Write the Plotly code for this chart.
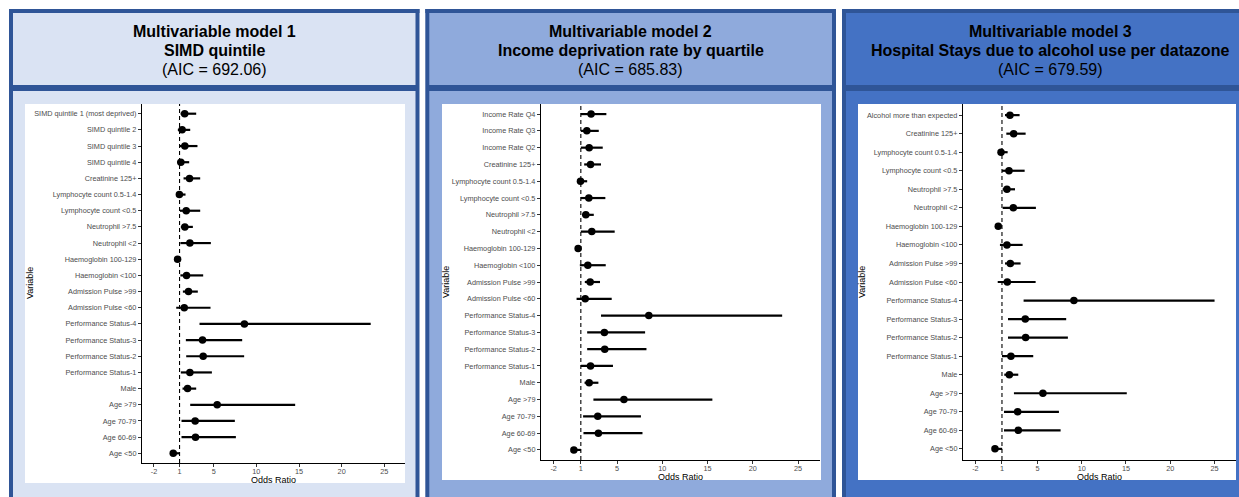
import plotly.graph_objects as go

W, H = 1239, 497

# ---------------- data ----------------
m1_labels = ["SIMD quintile 1 (most deprived)", "SIMD quintile 2", "SIMD quintile 3", "SIMD quintile 4",
             "Creatinine 125+", "Lymphocyte count 0.5-1.4", "Lymphocyte count <0.5", "Neutrophil >7.5",
             "Neutrophil <2", "Haemoglobin 100-129", "Haemoglobin <100", "Admission Pulse >99",
             "Admission Pulse <60", "Performance Status-4", "Performance Status-3", "Performance Status-2",
             "Performance Status-1", "Male", "Age >79", "Age 70-79", "Age 60-69", "Age <50"]
m1_or = [1.6, 1.3, 1.62, 1.15, 2.17, 0.98, 1.78, 1.62, 2.21, 0.77, 1.82, 2.05, 1.55, 8.6, 3.69, 3.77,
         2.21, 1.94, 5.41, 2.83, 2.87, 0.26]
m1_lo = [1.12, 0.8, 1.0, 0.73, 1.47, 0.68, 1.05, 1.15, 1.1, 0.6, 1.1, 1.39, 0.61, 3.34, 1.74, 1.78,
         1.15, 1.35, 2.25, 1.23, 1.23, 0.15]
m1_hi = [2.95, 2.25, 3.1, 2.13, 3.42, 1.7, 3.42, 2.56, 4.67, 1.05, 3.77, 3.14, 4.63, 23.4, 8.34, 8.57,
         4.79, 2.95, 14.55, 7.48, 7.6, 1.02]

m2_labels = ["Income Rate Q4", "Income Rate Q3", "Income Rate Q2", "Creatinine 125+",
             "Lymphocyte count 0.5-1.4", "Lymphocyte count <0.5", "Neutrophil >7.5", "Neutrophil <2",
             "Haemoglobin 100-129", "Haemoglobin <100", "Admission Pulse >99", "Admission Pulse <60",
             "Performance Status-4", "Performance Status-3", "Performance Status-2", "Performance Status-1",
             "Male", "Age >79", "Age 70-79", "Age 60-69", "Age <50"]
m2_or = [2.13, 1.66, 1.92, 2.07, 0.96, 1.88, 1.55, 2.21, 0.7, 1.77, 2.03, 1.48, 8.51, 3.6, 3.64, 2.07,
         1.92, 5.76, 2.87, 2.94, 0.23]
m2_lo = [1.0, 1.0, 1.0, 1.37, 0.74, 1.0, 1.15, 1.0, 0.55, 0.89, 1.44, 0.53, 3.23, 1.7, 1.7, 1.0,
         1.41, 2.39, 1.25, 1.29, 0.12]
m2_hi = [3.82, 2.98, 3.42, 3.23, 1.7, 3.71, 2.43, 4.74, 0.95, 3.75, 3.12, 4.41, 23.24, 8.1, 8.25, 4.55,
         2.94, 15.53, 7.64, 7.81, 1.02]

m3_labels = ["Alcohol more than expected", "Creatinine 125+", "Lymphocyte count 0.5-1.4",
             "Lymphocyte count <0.5", "Neutrophil >7.5", "Neutrophil <2", "Haemoglobin 100-129",
             "Haemoglobin <100", "Admission Pulse >99", "Admission Pulse <60", "Performance Status-4",
             "Performance Status-3", "Performance Status-2", "Performance Status-1", "Male", "Age >79",
             "Age 70-79", "Age 60-69", "Age <50"]
m3_or = [1.9, 2.32, 0.89, 1.79, 1.56, 2.28, 0.58, 1.56, 1.94, 1.6, 9.12, 3.63, 3.67, 2.01, 1.83, 5.62,
         2.77, 2.84, 0.21]
m3_lo = [1.34, 1.49, 0.63, 1.0, 1.08, 1.08, 0.45, 0.77, 1.34, 0.52, 3.44, 1.68, 1.68, 1.0, 1.26, 2.35,
         1.23, 1.23, 0.1]
m3_hi = [2.99, 3.67, 1.64, 3.56, 2.47, 4.83, 0.72, 3.33, 3.1, 4.8, 25.0, 8.25, 8.44, 4.53, 2.84, 15.09,
         7.43, 7.62, 1.02]

header_line1 = ["Multivariable model 1", "Multivariable model 2", "Multivariable model 3"]
header_line2 = ["SIMD quintile", "Income deprivation rate by quartile",
                "Hospital Stays due to alcohol use per datazone"]
aic_values = [692.06, 685.83, 679.59]

x_tick_vals = [-2, 1, 5, 10, 15, 20, 25]
x_tick_text = ["-2", "1", "5", "10", "15", "20", "25"]
x_range = [-3.4, 27.42]
ref_line = 1
x_title = "Odds Ratio"
y_title = "Variable"

models = [
    (m1_labels, m1_or, m1_lo, m1_hi),
    (m2_labels, m2_or, m2_lo, m2_hi),
    (m3_labels, m3_or, m3_lo, m3_hi),
]

# ---------------- layout geometry (pixels) ----------------
FONT = "Liberation Sans, Arial, sans-serif"
BORDER = "#2f5597"
panels = [
    dict(fx=(11, 417.5), bg="#dae3f3", white=(25, 405, 104, 483), dx=(142, 405), dy=(104, 463),
         var_x=29.5, title_y=479.5),
    dict(fx=(427.3, 834), bg="#8faadc", white=(442, 821, 104, 480), dx=(541, 820), dy=(104, 460),
         var_x=446, title_y=477),
    dict(fx=(844, 1256), bg="#4472c4", white=(858, 1236, 104, 480), dx=(963, 1236), dy=(104, 460),
         var_x=862, title_y=477),
]


def px(x):
    return x / W


def py(y):
    return 1 - y / H


def seg(xa0, ya0, xa1, ya1, width):
    return dict(type="line", xref="paper", yref="paper", x0=px(xa0), x1=px(xa1),
                y0=py(ya0), y1=py(ya1), line=dict(color=BORDER, width=width), layer="below")


fig = go.Figure()
shapes = []
annotations = []
layout_axes = {}

for i, (p, (labels, ors, los, his)) in enumerate(zip(panels, models)):
    n = len(labels)
    ypos = [n - k for k in range(n)]
    sfx = "" if i == 0 else str(i + 1)
    xa, ya = "x" + sfx, "y" + sfx

    x0, x1 = p["fx"]
    # panel fill (header + body)
    shapes.append(dict(type="rect", xref="paper", yref="paper", x0=px(x0), x1=px(x1),
                       y0=py(H + 10), y1=py(11), fillcolor=p["bg"], line=dict(width=0), layer="below"))
    # borders
    shapes.append(seg(x0 - 2, 11, x1 + 2, 11, 4))          # top
    shapes.append(seg(x0, 9, x0, H + 10, 4))                # left
    shapes.append(seg(x1, 9, x1, H + 10, 4))                # right
    shapes.append(seg(x0, 88, x1, 88, 6))                   # header separator
    wx0, wx1, wy0, wy1 = p["white"]
    shapes.append(dict(type="rect", xref="paper", yref="paper", x0=px(wx0), x1=px(wx1),
                       y0=py(wy1), y1=py(wy0), fillcolor="white", line=dict(width=0), layer="below"))
    # reference line at OR = 1
    shapes.append(dict(type="line", xref=xa, yref=ya + " domain", x0=ref_line, x1=ref_line, y0=0, y1=1,
                       line=dict(color="black", width=1.1, dash="4px,3px"), layer="below"))

    fig.add_trace(go.Scatter(
        x=ors, y=ypos, mode="markers", xaxis=xa, yaxis=ya,
        marker=dict(color="black", size=7.5),
        error_x=dict(type="data", symmetric=False,
                     array=[h - o for h, o in zip(his, ors)],
                     arrayminus=[o - l for o, l in zip(ors, los)],
                     width=0, thickness=2.2, color="black"),
        showlegend=False, hoverinfo="skip"))

    layout_axes["xaxis" + sfx] = dict(
        domain=[px(p["dx"][0]), px(p["dx"][1])], anchor=ya, range=x_range, automargin=False,
        tickvals=x_tick_vals, ticktext=x_tick_text, showgrid=False, zeroline=False,
        showline=True, linecolor="black", linewidth=1.1, ticks="outside", ticklen=3,
        tickcolor="#333333", tickwidth=1, ticklabelstandoff=-2,
        tickfont=dict(family=FONT, size=7.3, color="#4d4d4d"))
    layout_axes["yaxis" + sfx] = dict(
        domain=[py(p["dy"][1]), py(p["dy"][0])], anchor=xa, range=[0.4, n + 0.6], automargin=False,
        tickvals=ypos, ticktext=labels, showgrid=False, zeroline=False,
        showline=True, linecolor="black", linewidth=1.1, ticks="outside", ticklen=3,
        tickcolor="#333333", tickwidth=1,
        tickfont=dict(family=FONT, size=7.3, color="#4d4d4d"))

    cx = (x0 + x1) / 2
    annotations.append(dict(xref="paper", yref="paper", x=px(cx), y=py(31.5), text="<b>" + header_line1[i] + "</b>",
                            showarrow=False, xanchor="center", yanchor="middle",
                            font=dict(family=FONT, size=16, color="black")))
    annotations.append(dict(xref="paper", yref="paper", x=px(cx), y=py(50), text="<b>" + header_line2[i] + "</b>",
                            showarrow=False, xanchor="center", yanchor="middle",
                            font=dict(family=FONT, size=16, color="black")))
    annotations.append(dict(xref="paper", yref="paper", x=px(cx), y=py(69),
                            text="(AIC = %.2f)" % aic_values[i],
                            showarrow=False, xanchor="center", yanchor="middle",
                            font=dict(family=FONT, size=16, color="black")))
    annotations.append(dict(xref="paper", yref="paper", x=px((p["dx"][0] + p["dx"][1]) / 2),
                            y=py(p["title_y"]), text=x_title, showarrow=False,
                            xanchor="center", yanchor="middle",
                            font=dict(family=FONT, size=9, color="black")))
    annotations.append(dict(xref="paper", yref="paper", x=px(p["var_x"]),
                            y=py((p["dy"][0] + p["dy"][1]) / 2), text=y_title, showarrow=False,
                            textangle=-90, xanchor="center", yanchor="middle",
                            font=dict(family=FONT, size=9, color="black")))

fig.update_layout(
    width=W, height=H, autosize=False,
    margin=dict(l=0, r=0, t=0, b=0, pad=0, autoexpand=False),
    paper_bgcolor="white", plot_bgcolor="rgba(0,0,0,0)",
    shapes=shapes, annotations=annotations, showlegend=False,
    **layout_axes)

fig.write_html("out.html", config={"displayModeBar": False, "staticPlot": True},
               post_script="document.body.style.margin='0';document.body.style.padding='0';"
                           "document.body.style.overflow='hidden';")
